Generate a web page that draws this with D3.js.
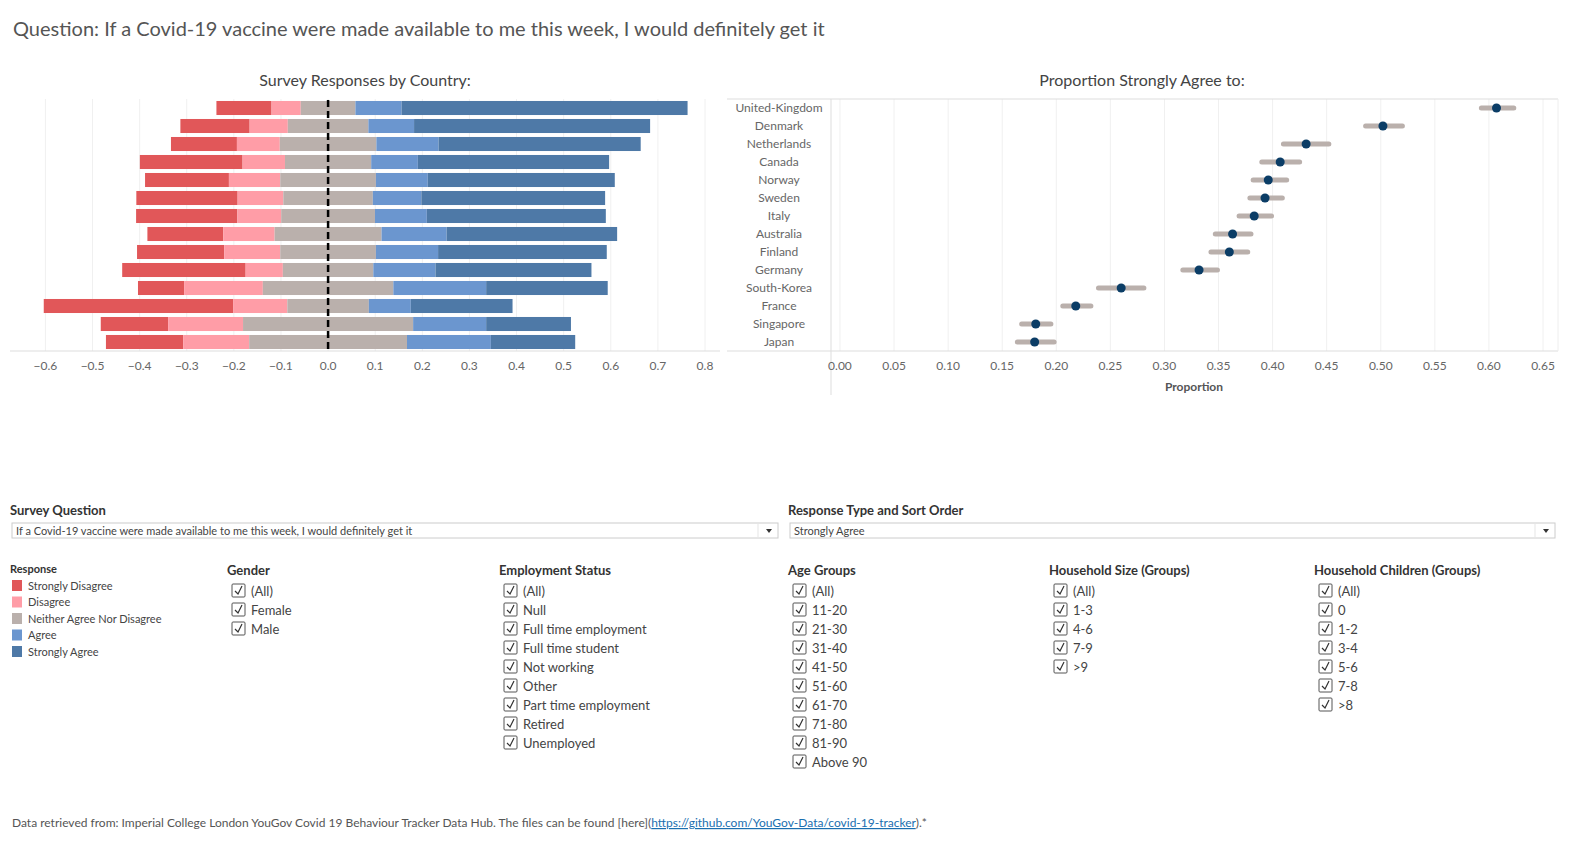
<!DOCTYPE html>
<html>
<head>
<meta charset="utf-8">
<script src="https://d3js.org/d3.v7.min.js"></script>
<style>
body{margin:0;background:#fff;font-family:Lato,"Open Sans",sans-serif;}
svg{display:block}
text{font-family:Lato,"Open Sans",sans-serif}
.grid line{stroke:#f0f0f0}
</style>
</head>
<body>
<svg id="chart" width="1586" height="849"></svg>
<script>
// countries in sort order (Strongly Agree)
var countries = ['United-Kingdom','Denmark','Netherlands','Canada','Norway','Sweden','Italy','Australia','Finland','Germany','South-Korea','France','Singapore','Japan'];
var responses = ['Strongly Disagree','Disagree','Neither Agree Nor Disagree','Agree','Strongly Agree'];
var responseColors = ['#e15759','#ff9da7','#bab0ac','#6b96cf','#4e79a7'];

// proportions per response, one value per country
var stronglyDisagree = [.117,.147,.140,.218,.178,.215,.215,.161,.185,.262,.098,.402,.143,.164];
var disagree         = [.062,.081,.091,.090,.109,.097,.093,.109,.119,.079,.167,.115,.159,.140];
var neutral          = [.116,.171,.205,.183,.203,.190,.199,.227,.203,.192,.277,.173,.361,.335];
var agree            = [.098,.097,.132,.099,.110,.103,.110,.138,.132,.132,.197,.089,.155,.178];
var stronglyAgree    = [.607,.501,.429,.406,.397,.390,.380,.362,.358,.331,.258,.216,.180,.179];

// proportion strongly agree with confidence interval
var propEst  = [.607,.502,.431,.407,.396,.393,.383,.363,.360,.332,.260,.218,.181,.180];
var propLow  = [.593,.486,.410,.390,.382,.379,.369,.347,.343,.317,.239,.206,.168,.164];
var propHigh = [.623,.520,.452,.425,.413,.409,.399,.380,.377,.349,.281,.232,.195,.198];

var leftTicks = [-0.6,-0.5,-0.4,-0.3,-0.2,-0.1,0,0.1,0.2,0.3,0.4,0.5,0.6,0.7,0.8];
var rightTicks = [0,.05,.1,.15,.2,.25,.3,.35,.4,.45,.5,.55,.6,.65];

var gender = ['(All)','Female','Male'];
var employment = ['(All)','Null','Full time employment','Full time student','Not working','Other','Part time employment','Retired','Unemployed'];
var ageGroups = ['(All)','11-20','21-30','31-40','41-50','51-60','61-70','71-80','81-90','Above 90'];
var householdSize = ['(All)','1-3','4-6','7-9','>9'];
var householdChildren = ['(All)','0','1-2','3-4','5-6','7-8','>8'];

var svg = d3.select('#chart');

svg.append('text').attr('x',13).attr('y',36).attr('font-size',20).attr('fill','#555')
    .text('Question: If a Covid-19 vaccine were made available to me this week, I would definitely get it');

// ---------- left diverging bars ----------
var x = d3.scaleLinear().domain([-0.6,0.8]).range([45.4,705]);
var y = d3.scaleBand().domain(countries).range([99,351]).paddingInner(0.22).paddingOuter(0.11);

svg.append('text').attr('x',365).attr('y',86).attr('text-anchor','middle').attr('font-size',16).attr('fill','#444')
    .text('Survey Responses by Country:');

svg.append('g').attr('class','grid').selectAll('line').data(leftTicks).enter().append('line')
    .attr('x1',d=>x(d)).attr('x2',d=>x(d)).attr('y1',99).attr('y2',351);
svg.append('line').attr('x1',10).attr('x2',720).attr('y1',351).attr('y2',351).attr('stroke','#ddd');

var stackRows = countries.map(function(c,i){
    var vals = [stronglyDisagree[i],disagree[i],neutral[i],agree[i],stronglyAgree[i]];
    var start = -(vals[0]+vals[1]+vals[2]/2);
    var segs = [];
    vals.forEach(function(v,k){ segs.push({c:c,k:k,x0:start,x1:start+v}); start += v; });
    return segs;
});
svg.append('g').selectAll('rect').data(stackRows.flat()).enter().append('rect')
    .attr('x',d=>x(d.x0)).attr('width',d=>x(d.x1)-x(d.x0))
    .attr('y',d=>y(d.c)).attr('height',y.bandwidth())
    .attr('fill',d=>responseColors[d.k]);

svg.append('line').attr('x1',x(0)).attr('x2',x(0)).attr('y1',100).attr('y2',350)
    .attr('stroke','#000').attr('stroke-width',2.5).attr('stroke-dasharray','7,4');

svg.append('g').selectAll('text').data(leftTicks).enter().append('text')
    .attr('x',d=>x(d)).attr('y',370).attr('text-anchor','middle').attr('font-size',12).attr('fill','#666')
    .text(d=>d3.format('.1f')(d));

// ---------- right dot plot ----------
var xr = d3.scaleLinear().domain([-0.0083,0.65]).range([831,1543]);
var yr = d3.scaleBand().domain(countries).range([99,351]);

svg.append('text').attr('x',1142).attr('y',86).attr('text-anchor','middle').attr('font-size',16).attr('fill','#444')
    .text('Proportion Strongly Agree to:');

svg.append('g').attr('class','grid').selectAll('line').data(rightTicks).enter().append('line')
    .attr('x1',d=>xr(d)).attr('x2',d=>xr(d)).attr('y1',99).attr('y2',351);
svg.append('line').attr('x1',727).attr('x2',1558).attr('y1',99).attr('y2',99).attr('stroke','#ddd');
svg.append('line').attr('x1',727).attr('x2',1558).attr('y1',351).attr('y2',351).attr('stroke','#ddd');
svg.append('line').attr('x1',831).attr('x2',831).attr('y1',99).attr('y2',395).attr('stroke','#ddd');
svg.append('line').attr('x1',1558).attr('x2',1558).attr('y1',99).attr('y2',351).attr('stroke','#eee');

svg.append('g').selectAll('text').data(countries).enter().append('text')
    .attr('x',779).attr('y',d=>yr(d)+yr.bandwidth()/2+4).attr('text-anchor','middle')
    .attr('font-size',12).attr('fill','#666').text(d=>d);

svg.append('g').selectAll('line').data(countries).enter().append('line')
    .attr('x1',(d,i)=>xr(propLow[i])).attr('x2',(d,i)=>xr(propHigh[i]))
    .attr('y1',d=>yr(d)+yr.bandwidth()/2).attr('y2',d=>yr(d)+yr.bandwidth()/2)
    .attr('stroke','#bab0ac').attr('stroke-width',5).attr('stroke-linecap','round');
svg.append('g').selectAll('circle').data(countries).enter().append('circle')
    .attr('cx',(d,i)=>xr(propEst[i])).attr('cy',d=>yr(d)+yr.bandwidth()/2).attr('r',4.5)
    .attr('fill','#0b3d66');

svg.append('g').selectAll('text').data(rightTicks).enter().append('text')
    .attr('x',d=>xr(d)).attr('y',370).attr('text-anchor','middle').attr('font-size',12).attr('fill','#666')
    .text(d=>d3.format('.2f')(d));
svg.append('text').attr('x',1194).attr('y',391).attr('text-anchor','middle').attr('font-size',12)
    .attr('font-weight','bold').attr('fill','#555').text('Proportion');

// ---------- filters ----------
function dropdown(x0,x1,label,value){
    svg.append('text').attr('x',x0-2).attr('y',515).attr('font-size',13).attr('font-weight','bold').attr('fill','#333').text(label);
    svg.append('rect').attr('x',x0).attr('y',523).attr('width',x1-x0).attr('height',15).attr('fill','#fff').attr('stroke','#ccc');
    svg.append('line').attr('x1',x1-20).attr('x2',x1-20).attr('y1',524).attr('y2',537).attr('stroke','#e5e5e5');
    svg.append('text').attr('x',x0+4).attr('y',535).attr('font-size',11).attr('fill','#444').text(value);
    svg.append('path').attr('d',`M${x1-12},529 l6,0 l-3,4 z`).attr('fill','#333');
}
dropdown(12,778,'Survey Question','If a Covid-19 vaccine were made available to me this week, I would definitely get it');
dropdown(790,1555,'Response Type and Sort Order','Strongly Agree');

svg.append('text').attr('x',10).attr('y',573).attr('font-size',11).attr('font-weight','bold').attr('fill','#333').text('Response');
var leg = svg.append('g').selectAll('g').data(responses).enter().append('g')
    .attr('transform',(d,i)=>`translate(12,${580+i*16.5})`);
leg.append('rect').attr('width',10).attr('height',11).attr('fill',(d,i)=>responseColors[i]);
leg.append('text').attr('x',16).attr('y',9.5).attr('font-size',11).attr('fill','#444').text(d=>d);

function checklist(x0,title,items){
    svg.append('text').attr('x',x0).attr('y',575).attr('font-size',13).attr('font-weight','bold').attr('fill','#333').text(title);
    var g = svg.append('g').selectAll('g').data(items).enter().append('g')
        .attr('transform',(d,i)=>`translate(${x0+5},${584+i*19})`);
    g.append('rect').attr('width',13).attr('height',13).attr('rx',1).attr('fill','#fff').attr('stroke','#555');
    g.append('path').attr('d','M3,7 l3,3 l4,-8').attr('fill','none').attr('stroke','#333').attr('stroke-width',1.2);
    g.append('text').attr('x',19).attr('y',11.5).attr('font-size',13).attr('fill','#444').text(d=>d);
}
checklist(227,'Gender',gender);
checklist(499,'Employment Status',employment);
checklist(788,'Age Groups',ageGroups);
checklist(1049,'Household Size (Groups)',householdSize);
checklist(1314,'Household Children (Groups)',householdChildren);

var foot = svg.append('text').attr('x',12).attr('y',827).attr('font-size',12).attr('fill','#555');
foot.append('tspan').text('Data retrieved from: Imperial College London YouGov Covid 19 Behaviour Tracker Data Hub. The files can be found [here](');
foot.append('tspan').attr('fill','#1a6fb0').attr('text-decoration','underline').text('https://github.com/YouGov-Data/covid-19-tracker');
foot.append('tspan').text(').*');
</script>
</body>
</html>
